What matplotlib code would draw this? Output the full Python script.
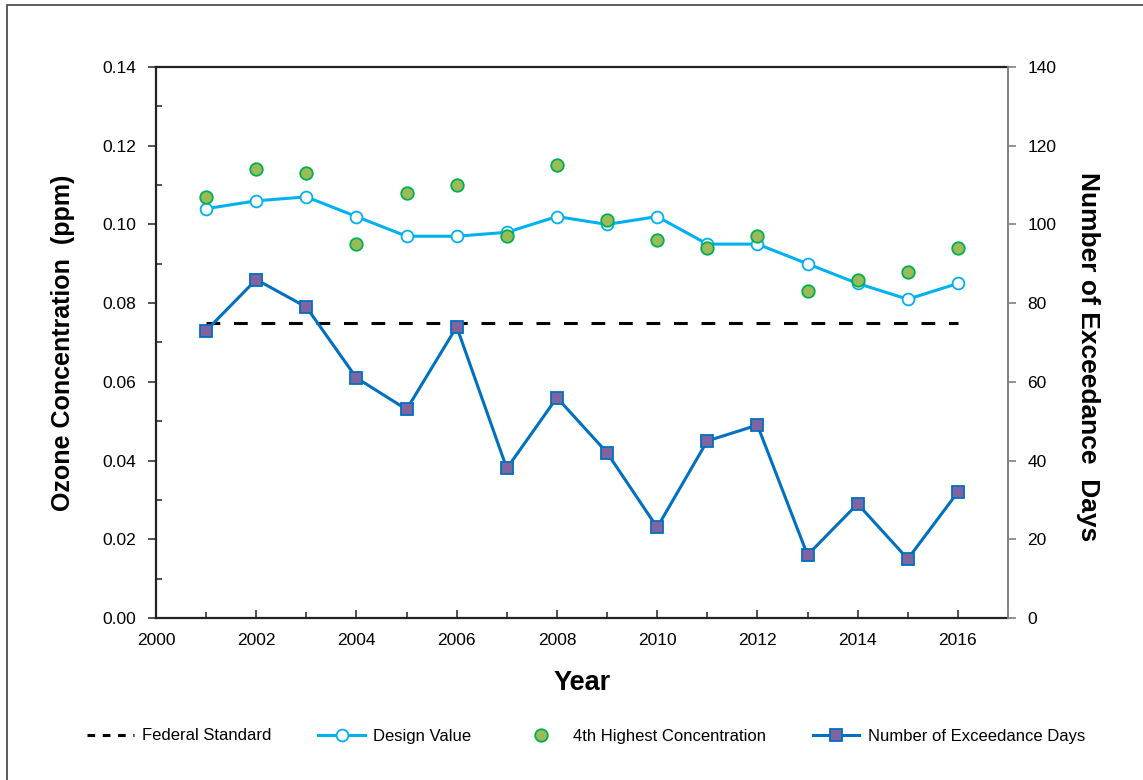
import matplotlib
matplotlib.use("Agg")
import matplotlib.pyplot as plt
from matplotlib.lines import Line2D
from matplotlib.patches import Rectangle
from matplotlib.ticker import MultipleLocator, FormatStrFormatter

plt.rcParams['font.family'] = ['Liberation Sans', 'DejaVu Sans']

years = [2001, 2002, 2003, 2004, 2005, 2006, 2007, 2008,
         2009, 2010, 2011, 2012, 2013, 2014, 2015, 2016]
design_value = [0.104, 0.106, 0.107, 0.102, 0.097, 0.097, 0.098, 0.102,
                0.100, 0.102, 0.095, 0.095, 0.090, 0.085, 0.081, 0.085]
fourth_highest = [0.107, 0.114, 0.113, 0.095, 0.108, 0.110, 0.097, 0.115,
                  0.101, 0.096, 0.094, 0.097, 0.083, 0.086, 0.088, 0.094]
exceedance_days = [73, 86, 79, 61, 53, 74, 38, 56,
                   42, 23, 45, 49, 16, 29, 15, 32]
federal_standard = 0.075
year_ticks = [2000, 2002, 2004, 2006, 2008, 2010, 2012, 2014, 2016]

W, H = 1143, 780
fig = plt.figure(figsize=(W / 100, H / 100), dpi=100)

# outer frame (left and top edges visible)
fig.patches.append(Rectangle((7 / W, -0.1), 1.2, 1.1 - 5 / H, transform=fig.transFigure,
                             fill=False, edgecolor='#404040', linewidth=1.2))

ax = fig.add_axes([156 / W, 1 - 618 / H, (1008 - 156) / W, (618 - 67) / H])
ax2 = ax.twinx()

c_dv = '#00B0F0'
c_ex = '#0070C0'

ax.plot([years[0], years[-1]], [federal_standard, federal_standard],
        color='black', linestyle=(0, (4.5, 4.5)), linewidth=2.2, zorder=2)
ax.plot(years, design_value, color=c_dv, linewidth=2.2, marker='o', markersize=8.5,
        markerfacecolor='white', markeredgecolor=c_dv, markeredgewidth=1.3, zorder=3)
ax.plot(years, fourth_highest, linestyle='none', marker='o', markersize=9,
        markerfacecolor='#9BBB59', markeredgecolor='#00B050', markeredgewidth=1.3, zorder=4)
ax2.plot(years, exceedance_days, color=c_ex, linewidth=2.2, marker='s', markersize=9,
         markerfacecolor='#8064A2', markeredgecolor=c_ex, markeredgewidth=1.3, zorder=3)

ax.set_xlim(2000, 2017)
ax.set_ylim(0, 0.14)
ax2.set_ylim(0, 140)

ax.set_xticks(year_ticks)
ax.set_xticklabels([str(y) for y in year_ticks])
ax.xaxis.set_minor_locator(MultipleLocator(1))
ax.yaxis.set_major_locator(MultipleLocator(0.02))
ax.yaxis.set_minor_locator(MultipleLocator(0.01))
ax.yaxis.set_major_formatter(FormatStrFormatter('%.2f'))
ax2.yaxis.set_major_locator(MultipleLocator(20))

ax.tick_params(axis='x', which='major', direction='in', length=6, width=1.2,
               labelsize=12.5, pad=11, color='#333333')
ax.tick_params(axis='x', which='minor', direction='in', length=4, width=1.2, color='#333333')
ax.tick_params(axis='y', which='major', direction='out', length=6, width=1.2,
               labelsize=12.5, pad=8, color='#333333')
ax.tick_params(axis='y', which='minor', direction='in', length=4, width=1.2, color='#333333')
ax2.tick_params(axis='y', which='major', direction='out', length=6, width=1.2,
                labelsize=12.5, pad=8, color='#808080')

for s in ['left', 'bottom', 'top']:
    ax.spines[s].set_color('#222222')
    ax.spines[s].set_linewidth(1.6)
    ax2.spines[s].set_visible(False)
ax.spines['right'].set_visible(False)
ax2.spines['right'].set_color('#808080')
ax2.spines['right'].set_linewidth(1.4)

ax.set_xlabel('Year', fontsize=19.5, fontweight='bold', labelpad=16)
ax.set_ylabel('Ozone Concentration  (ppm)', fontsize=18, fontweight='bold', labelpad=20)
ax2.set_ylabel('Number of Exceedance  Days', fontsize=19, fontweight='bold',
               rotation=-90, ha='center', va='center')
ax2.yaxis.set_label_coords((1088 - 156) / 852, (618 - 357) / 551)

handles = [
    Line2D([], [], color='black', linestyle=(0, (2.5, 2.5)), linewidth=2.2),
    Line2D([], [], color=c_dv, linewidth=2.2, marker='o', markersize=8.5,
           markerfacecolor='white', markeredgecolor=c_dv, markeredgewidth=1.3),
    Line2D([], [], linestyle='none', marker='o', markersize=9,
           markerfacecolor='#9BBB59', markeredgecolor='#00B050', markeredgewidth=1.3),
    Line2D([], [], color=c_ex, linewidth=2.2, marker='s', markersize=9,
           markerfacecolor='#8064A2', markeredgecolor=c_ex, markeredgewidth=1.3),
]
labels = ['Federal Standard', 'Design Value', '4th Highest Concentration',
          'Number of Exceedance Days']
fig.legend(handles, labels, loc='center', bbox_to_anchor=(586 / W, 1 - 736 / H),
           ncol=4, frameon=False, fontsize=12, handlelength=2.8,
           handletextpad=0.5, columnspacing=2.8)

fig.savefig('out.png', dpi=100)
